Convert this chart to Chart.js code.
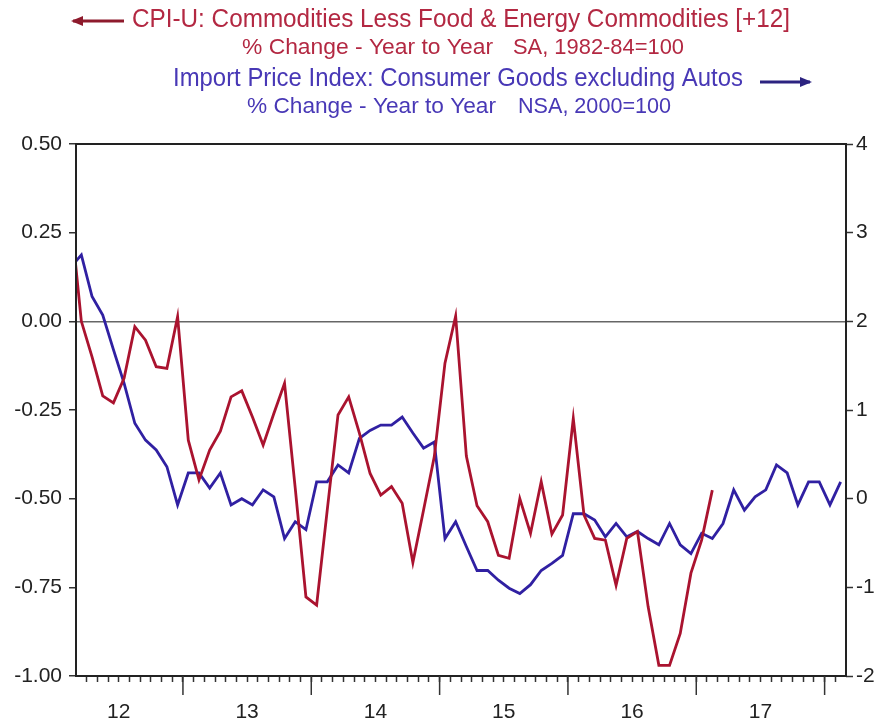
<!DOCTYPE html>
<html>
<head>
<meta charset="utf-8">
<title>CPI-U core commodities vs import prices</title>
<script src="https://cdn.jsdelivr.net/npm/chart.js@4.4.1/dist/chart.umd.min.js"></script>
<style>
  html, body { margin: 0; padding: 0; background: #fff; }
</style>
</head>
<body>
<canvas id="chart" width="880" height="720"></canvas>
<script>
// --------- Data --------

// monthly, first point is Feb 2012 (x = months after start of 2012, mid-month)
const firstPoint = 1.5;

// CPI-U commodities less food & energy, % y/y, shifted forward 12 months (left axis)
const cpiCommodities = [0.30, 0.00, -0.10, -0.21, -0.23, -0.16, -0.015, -0.053, -0.128, -0.133,
  0.013, -0.335, -0.447, -0.363, -0.31, -0.213, -0.196, -0.27, -0.349, -0.26,
  -0.175, -0.47, -0.777, -0.80, -0.53, -0.264, -0.213, -0.315, -0.429, -0.49,
  -0.466, -0.513, -0.68, -0.532, -0.382, -0.118, 0.015, -0.38, -0.52, -0.565,
  -0.66, -0.668, -0.50, -0.598, -0.452, -0.60, -0.546, -0.274, -0.546, -0.612,
  -0.617, -0.744, -0.612, -0.593, -0.805, -0.97, -0.97, -0.88, -0.71, -0.617,
  -0.476];

// Import price index, consumer goods ex autos, % y/y (right axis)
const importConsumerGoods = [2.61, 2.75, 2.28, 2.07, 1.68, 1.30, 0.85, 0.66, 0.55, 0.36,
  -0.07, 0.29, 0.29, 0.12, 0.29, -0.07, 0.00, -0.07, 0.10, 0.02,
  -0.45, -0.26, -0.35, 0.19, 0.19, 0.38, 0.29, 0.68, 0.77, 0.83,
  0.83, 0.92, 0.74, 0.57, 0.64, -0.45, -0.26, -0.54, -0.81, -0.81,
  -0.92, -1.01, -1.07, -0.97, -0.81, -0.73, -0.64, -0.17, -0.17, -0.24,
  -0.43, -0.28, -0.43, -0.37, -0.45, -0.52, -0.28, -0.52, -0.62, -0.39,
  -0.45, -0.28, 0.10, -0.13, 0.02, 0.10, 0.38, 0.29, -0.07, 0.19,
  0.19, -0.07, 0.19];

const yearLabels = ['12', '13', '14', '15', '16', '17'];
const leftTicks = [-1.00, -0.75, -0.50, -0.25, 0.00, 0.25, 0.50];
const rightTicks = [-2, -1, 0, 1, 2, 3, 4];

// x range in months from start of 2012 (Mar 2012 .. Mar 2018)
const xMin = 2;
const xMax = 74;

const toPoints = (arr) => arr.map((v, i) => ({ x: firstPoint + i, y: v }));

const FONT = '"Liberation Sans", Arial, sans-serif';
const RED_LINE = '#aa132f';
const BLUE_LINE = '#3020a2';
const RED_TEXT = '#b32842';
const BLUE_TEXT = '#4838b6';


// --------- Helpers for header --------

// draw text squeezed between x0 and x1 (the original uses a narrow face)
function fitText(ctx, text, x0, x1, cy, size, color) {
  ctx.save();
  ctx.font = size + 'px ' + FONT;
  ctx.fillStyle = color;
  ctx.textBaseline = 'middle';
  ctx.textAlign = 'left';
  const w = ctx.measureText(text).width;
  ctx.translate(x0, cy);
  ctx.scale((x1 - x0) / w, 1);
  ctx.fillText(text, 0, 0);
  ctx.restore();
}

function arrow(ctx, x0, x1, y, color, headLeft) {
  ctx.save();
  ctx.strokeStyle = color;
  ctx.fillStyle = color;
  ctx.lineWidth = 3;
  ctx.beginPath();
  ctx.moveTo(x0, y);
  ctx.lineTo(x1, y);
  ctx.stroke();
  const hx = headLeft ? x0 : x1;
  const d = headLeft ? 1 : -1;
  ctx.beginPath();
  ctx.moveTo(hx - d * 2, y);
  ctx.lineTo(hx + d * 10, y - 5);
  ctx.lineTo(hx + d * 10, y + 5);
  ctx.closePath();
  ctx.fill();
  ctx.restore();
}

const headerPlugin = {
  id: 'header',
  afterDraw(chart) {
    const ctx = chart.ctx;
    arrow(ctx, 73, 124, 21, '#8e1a2c', true);
    fitText(ctx, 'CPI-U: Commodities Less Food & Energy Commodities [+12]', 132, 790, 20, 25, RED_TEXT);
    fitText(ctx, '% Change - Year to Year', 242, 493, 48, 22, RED_TEXT);
    fitText(ctx, 'SA, 1982-84=100', 513, 684, 48, 22, RED_TEXT);

    fitText(ctx, 'Import Price Index: Consumer Goods excluding Autos', 173, 743, 79, 25, BLUE_TEXT);
    arrow(ctx, 760, 810, 82, '#2c2380', false);
    fitText(ctx, '% Change - Year to Year', 247, 496, 107, 22, BLUE_TEXT);
    fitText(ctx, 'NSA, 2000=100', 518, 671, 107, 22, BLUE_TEXT);
  }
};

// frame around plot + long year ticks
const framePlugin = {
  id: 'frame',
  afterDraw(chart) {
    const { ctx, chartArea: a } = chart;
    const x = chart.scales.x;
    ctx.save();
    ctx.strokeStyle = '#222';
    ctx.lineWidth = 2;
    ctx.strokeRect(a.left, a.top, a.right - a.left, a.bottom - a.top);
    ctx.lineWidth = 1.5;
    ctx.strokeStyle = '#333';
    for (let t = 12; t < xMax; t += 12) {
      const px = x.getPixelForValue(t);
      ctx.beginPath();
      ctx.moveTo(px, a.bottom);
      ctx.lineTo(px, a.bottom + 19);
      ctx.stroke();
    }
    ctx.restore();
  }
};


// --------- Chart --------

const ctx = document.getElementById('chart').getContext('2d');
const chart = new Chart(ctx, {
  type: 'line',
  data: {
    datasets: [{
      label: 'CPI-U: Commodities Less Food & Energy Commodities [+12]',
      data: toPoints(cpiCommodities),
      yAxisID: 'y',
      borderColor: RED_LINE,
      borderWidth: 2.8,
      pointRadius: 0,
      tension: 0,
      order: 0
    }, {
      label: 'Import Price Index: Consumer Goods excluding Autos',
      data: toPoints(importConsumerGoods),
      yAxisID: 'y1',
      borderColor: BLUE_LINE,
      borderWidth: 2.8,
      pointRadius: 0,
      tension: 0,
      order: 1
    }]
  },
  options: {
    responsive: false,
    animation: false,
    layout: { padding: { top: 144, left: 0, right: 0, bottom: 0 } },
    plugins: {
      legend: { display: false },
      tooltip: { enabled: false }
    },
    scales: {
      x: {
        type: 'linear',
        min: xMin,
        max: xMax,
        afterBuildTicks: (s) => {
          const t = [];
          for (let m = xMin + 1; m < xMax; m++) t.push({ value: m });
          s.ticks = t;
        },
        afterFit: (s) => { s.height = 44; },
        ticks: {
          autoSkip: false,
          maxRotation: 0,
          padding: 18,
          color: '#222',
          font: { family: FONT, size: 21 },
          callback: (v) => ((v - 6) % 12 === 0 ? yearLabels[(v - 6) / 12] : '')
        },
        grid: { drawOnChartArea: false, tickLength: 6, tickColor: '#333', tickWidth: 1.5 },
        border: { display: false }
      },
      y: {
        position: 'left',
        min: -1,
        max: 0.5,
        afterBuildTicks: (s) => { s.ticks = leftTicks.map(v => ({ value: v })); },
        afterFit: (s) => { s.width = 76; },
        ticks: {
          padding: 7,
          color: '#222',
          font: { family: FONT, size: 21 },
          callback: (v) => v.toFixed(2)
        },
        grid: {
          drawOnChartArea: true,
          color: (c) => (c.tick && c.tick.value === 0 ? '#666' : 'rgba(0,0,0,0)'),
          lineWidth: 1.5,
          tickLength: 7,
          tickColor: '#333',
          tickWidth: 1.5
        },
        border: { display: false }
      },
      y1: {
        position: 'right',
        min: -2,
        max: 4,
        afterBuildTicks: (s) => { s.ticks = rightTicks.map(v => ({ value: v })); },
        afterFit: (s) => { s.width = 34; },
        ticks: {
          padding: 3,
          color: '#222',
          font: { family: FONT, size: 21 }
        },
        grid: { drawOnChartArea: false, tickLength: 7, tickColor: '#333', tickWidth: 1.5 },
        border: { display: false }
      }
    }
  },
  plugins: [headerPlugin, framePlugin]
});
</script>
</body>
</html>
